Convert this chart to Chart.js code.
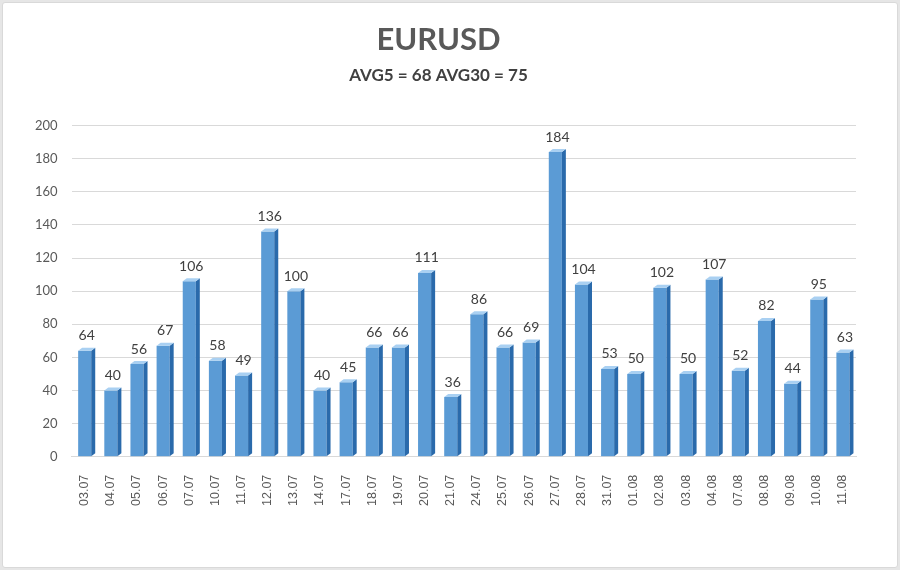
<!DOCTYPE html>
<html>
<head>
<meta charset="utf-8">
<script src="https://cdn.jsdelivr.net/npm/chart.js@4.4.0/dist/chart.umd.min.js"></script>
<style>
  body { margin: 0; background: #e6e6e6; }
  #wrap { position: absolute; left: 2px; top: 2px; width: 894px; height: 564px; background: #fff; border: 1px solid #d9d9d9; border-radius: 3px; }
  canvas { position: absolute; left: 0; top: 0; }
</style>
</head>
<body>
<div id="wrap"><canvas id="myChart" width="894" height="564"></canvas></div>
<script>
'use strict';
// chart data
let dates = ['03.07', '04.07', '05.07', '06.07', '07.07', '10.07', '11.07', '12.07', '13.07', '14.07', '17.07', '18.07', '19.07', '20.07', '21.07', '24.07', '25.07', '26.07', '27.07', '28.07', '31.07', '01.08', '02.08', '03.08', '04.08', '07.08', '08.08', '09.08', '10.08', '11.08'];
let ranges = [64, 40, 56, 67, 106, 58, 49, 136, 100, 40, 45, 66, 66, 111, 36, 86, 66, 69, 184, 104, 53, 50, 102, 50, 107, 52, 82, 44, 95, 63];
let titleText = 'EURUSD';
let subtitleText = 'AVG5 = 68 AVG30 = 75';

let ctx = document.getElementById('myChart').getContext('2d');
let fontName = 'Lato, "Open Sans", sans-serif';

// gradient for the front face of each bar
function barFill(context) {
  let bar = context.element;
  if (!bar || bar.x === undefined) {
    return '#5b9bd5';
  }
  let half = bar.width / 2;
  let g = context.chart.ctx.createLinearGradient(bar.x - half, 0, bar.x + half, 0);
  g.addColorStop(0, '#8cc0ee');
  g.addColorStop(0.5, '#66a5e0');
  g.addColorStop(1, '#4089d0');
  return g;
}

// draws the side and top of each bar, then the value above it
let bar3d = {
  id: 'bar3d',
  afterDatasetsDraw(chart) {
    let c = chart.ctx;
    let meta = chart.getDatasetMeta(0);
    let d = 4;
    let rise = 3;
    c.save();
    meta.data.forEach(function (bar, i) {
      let half = bar.width / 2;
      let right = bar.x + half;
      let left = bar.x - half;
      // side face
      c.fillStyle = '#2a6aab';
      c.beginPath();
      c.moveTo(right, bar.y);
      c.lineTo(right + d, bar.y - rise);
      c.lineTo(right + d, bar.base - rise);
      c.lineTo(right, bar.base);
      c.closePath();
      c.fill();
      // top face
      c.fillStyle = '#a9d0f2';
      c.beginPath();
      c.moveTo(left, bar.y);
      c.lineTo(right, bar.y);
      c.lineTo(right + d, bar.y - rise);
      c.lineTo(left + d, bar.y - rise);
      c.closePath();
      c.fill();
      // value label
      c.fillStyle = '#404040';
      c.font = '14px ' + fontName;
      c.textAlign = 'center';
      c.textBaseline = 'bottom';
      c.fillText(String(ranges[i]), bar.x + 2, bar.y - 8);
    });
    c.restore();
  }
};

new Chart(ctx, {
  type: 'bar',
  data: {
    labels: dates,
    datasets: [{
      data: ranges,
      backgroundColor: barFill,
      borderWidth: 0,
      barPercentage: 0.5,
      categoryPercentage: 1
    }]
  },
  options: {
    responsive: false,
    animation: false,
    layout: { padding: { left: 18, right: 41, top: 14, bottom: 51 } },
    plugins: {
      legend: { display: false },
      tooltip: { enabled: false },
      title: {
        display: true,
        text: titleText,
        color: '#595959',
        font: { family: fontName, size: 31, weight: 'bold' },
        padding: { top: 4, bottom: 7 }
      },
      subtitle: {
        display: true,
        text: subtitleText,
        color: '#404040',
        font: { family: fontName, size: 17, weight: 'bold' },
        padding: { top: 0, bottom: 40 }
      }
    },
    scales: {
      y: {
        min: 0,
        max: 200,
        ticks: { stepSize: 20, color: '#595959', font: { family: fontName, size: 13 }, padding: 14 },
        grid: { color: '#d9d9d9', drawTicks: false },
        border: { display: false }
      },
      x: {
        ticks: { minRotation: 90, maxRotation: 90, color: '#595959', font: { family: '"Liberation Sans", Arial, sans-serif', size: 12.5 }, padding: 10 },
        grid: { display: false },
        border: { color: '#d9d9d9' }
      }
    }
  },
  plugins: [bar3d]
});
</script>
</body>
</html>
